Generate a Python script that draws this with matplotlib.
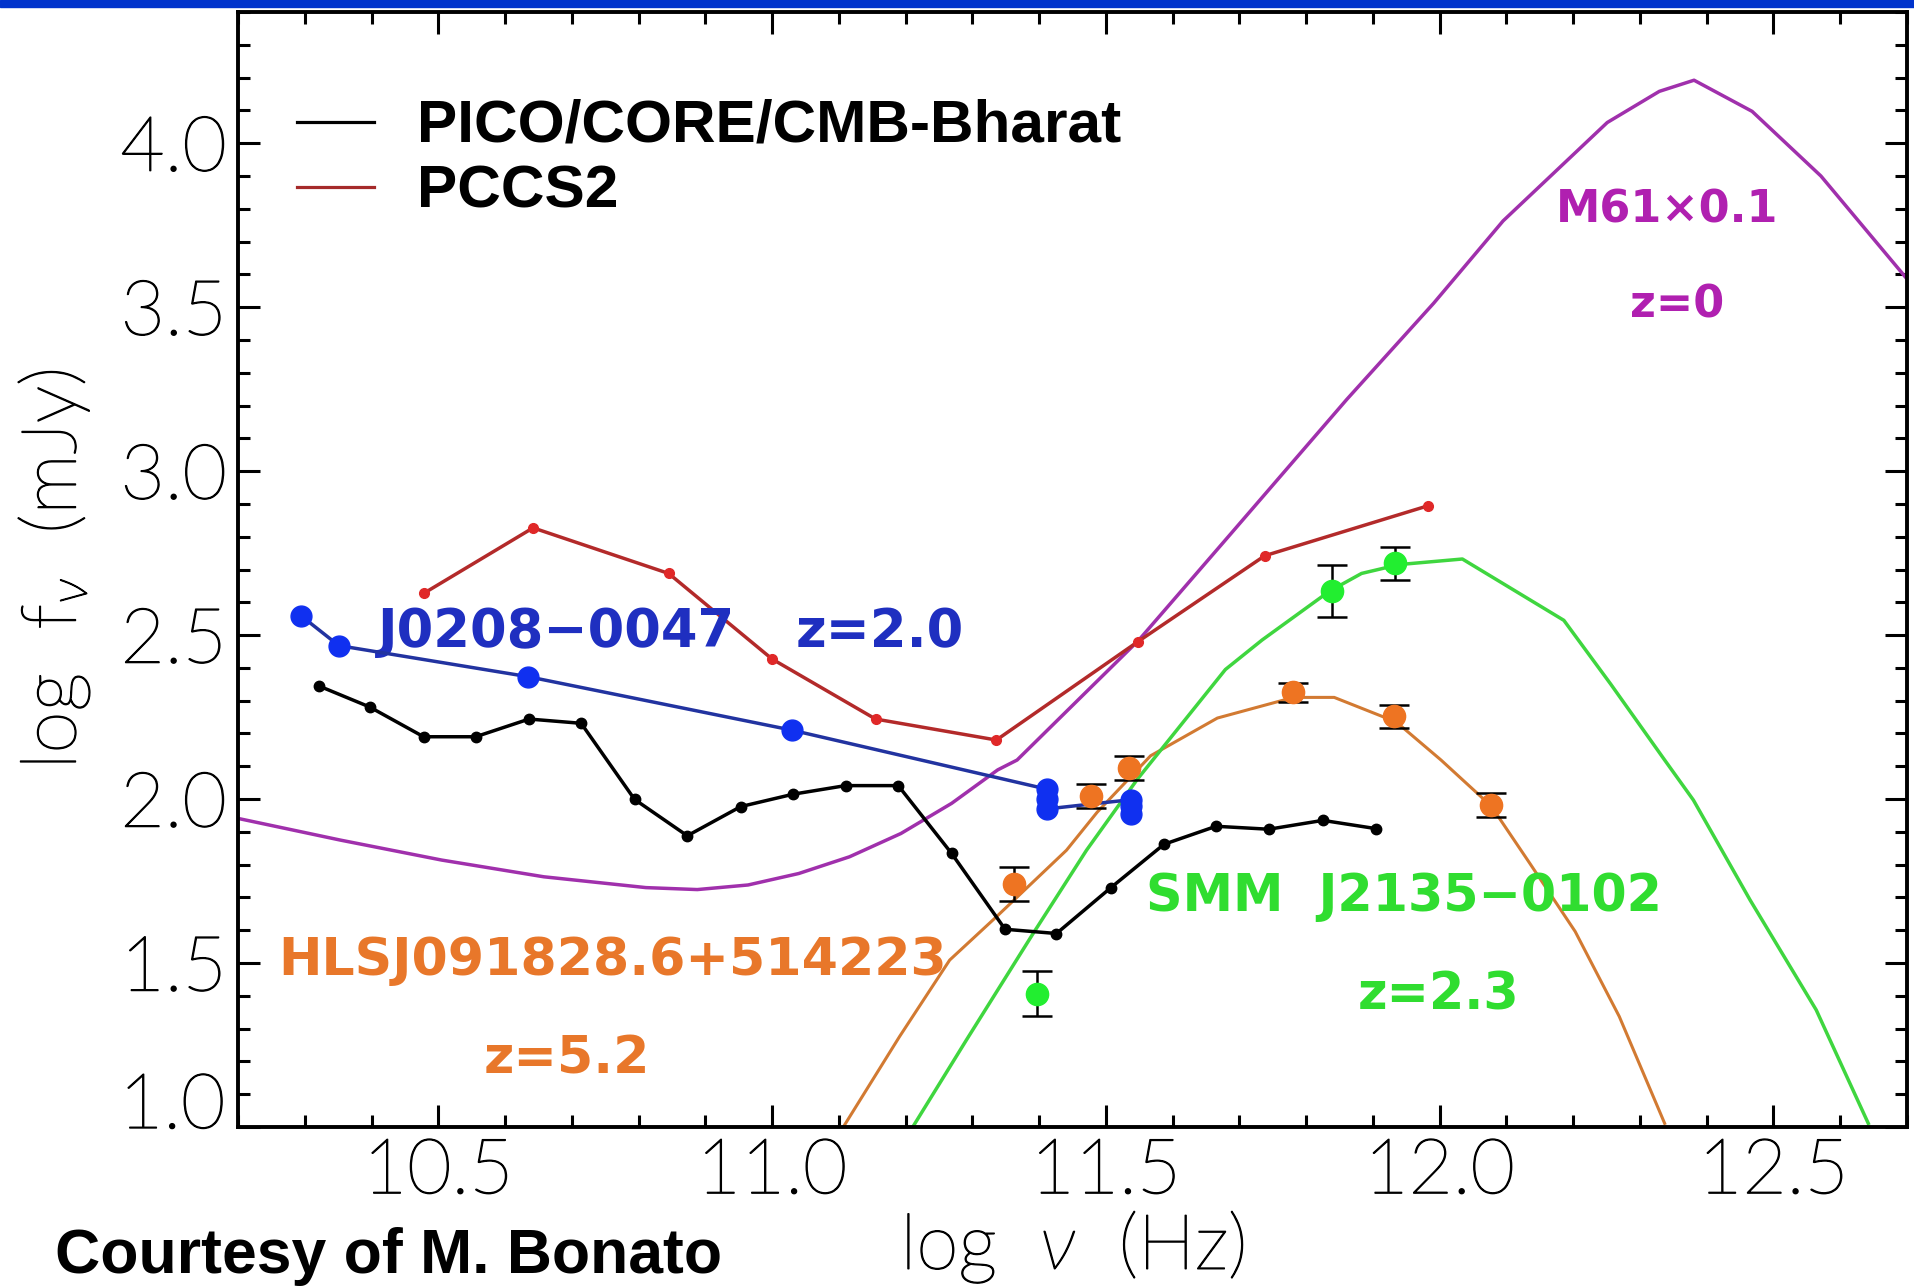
import matplotlib.pyplot as plt
import matplotlib.patheffects as pe
from matplotlib.patches import Rectangle
from matplotlib.ticker import MultipleLocator

# PICO/CORE/CMB-Bharat detection limits
pico_lognu = [10.321, 10.397, 10.478, 10.556, 10.636, 10.714, 10.794, 10.873,
              10.953, 11.032, 11.110, 11.189, 11.269, 11.349, 11.426, 11.507,
              11.587, 11.665, 11.744, 11.825, 11.904]
pico_logf = [2.345, 2.281, 2.190, 2.190, 2.244, 2.231, 1.999, 1.888,
             1.977, 2.015, 2.041, 2.041, 1.834, 1.603, 1.590, 1.729,
             1.862, 1.917, 1.908, 1.935, 1.910]

# PCCS2 completeness limits
pccs2_lognu = [10.478, 10.642, 10.845, 11.000, 11.155, 11.336, 11.548, 11.738, 11.982]
pccs2_logf = [2.627, 2.827, 2.688, 2.427, 2.244, 2.180, 2.480, 2.742, 2.894]

# J0208-0047 (z=2.0)
j0208_lognu = [10.295, 10.351, 10.635, 11.030, 11.412, 11.412, 11.412,
               11.537, 11.537, 11.537]
j0208_logf = [2.558, 2.468, 2.373, 2.210, 2.030, 2.000, 1.970,
              1.998, 1.978, 1.955]

# HLSJ091828.6+514223 (z=5.2): photometry and SED
hls_lognu = [11.363, 11.477, 11.534, 11.781, 11.932, 12.077]
hls_logf = [1.741, 2.010, 2.095, 2.326, 2.252, 1.982]
hls_err = [0.052, 0.036, 0.037, 0.029, 0.034, 0.037]
hls_sed_lognu = [11.107, 11.191, 11.266, 11.336, 11.441, 11.487, 11.567, 11.667,
                 11.781, 11.842, 11.935, 12.002, 12.077, 12.135, 12.203, 12.269, 12.337]
hls_sed_logf = [1.001, 1.276, 1.509, 1.641, 1.844, 1.960, 2.132, 2.247,
                2.310, 2.310, 2.235, 2.119, 1.979, 1.804, 1.596, 1.337, 1.011]

# SMM J2135-0102 (z=2.3): photometry and SED
smm_lognu = [11.397, 11.839, 11.933]
smm_logf = [1.406, 2.635, 2.719]
smm_err = [0.069, 0.080, 0.050]
smm_sed_lognu = [11.211, 11.291, 11.391, 11.471, 11.547, 11.679, 11.734, 11.835,
                 11.883, 11.939, 12.034, 12.186, 12.256, 12.337, 12.380, 12.465,
                 12.564, 12.642]
smm_sed_logf = [1.001, 1.265, 1.590, 1.844, 2.060, 2.395, 2.485, 2.634,
                2.688, 2.715, 2.732, 2.545, 2.351, 2.119, 1.997, 1.692,
                1.357, 1.011]

# M61 x 0.1 (z=0)
m61_lognu = [10.200, 10.353, 10.505, 10.658, 10.811, 10.888, 10.964, 11.040,
             11.116, 11.193, 11.269, 11.338, 11.367, 11.549, 11.688, 11.861,
             11.991, 12.095, 12.251, 12.329, 12.381, 12.468, 12.571, 12.700]
m61_logf = [1.941, 1.875, 1.814, 1.763, 1.730, 1.724, 1.738, 1.773,
            1.824, 1.895, 1.987, 2.089, 2.119, 2.484, 2.811, 3.219,
            3.512, 3.763, 4.063, 4.158, 4.192, 4.097, 3.900, 3.586]

xticks = [10.5, 11.0, 11.5, 12.0, 12.5]
yticks = [1.0, 1.5, 2.0, 2.5, 3.0, 3.5, 4.0]

TICK_FONT = ['Lato', 'DejaVu Sans']
ANNOT_FONT = ['DejaVu Sans']
# thin light glyphs, slightly thickened
THIN = [pe.withStroke(linewidth=1.0, foreground='black')]
plt.rcParams['mathtext.fontset'] = 'custom'
plt.rcParams['mathtext.rm'] = 'Lato:light'
plt.rcParams['mathtext.it'] = 'Lato:italic:light'
plt.rcParams['mathtext.fallback'] = 'stixsans'

fig = plt.figure(figsize=(19.15, 12.86), dpi=100)
fig.patches.append(Rectangle((0, 1 - 7 / 1286), 1, 7 / 1286, transform=fig.transFigure,
                             color='#0033cc', zorder=0))

ax = fig.add_axes([238 / 1915, 1 - 1127 / 1286, 1669 / 1915, 1115 / 1286])

ax.plot(m61_lognu, m61_logf, color='#a030ac', lw=2.5, zorder=2)
ax.plot(hls_sed_lognu, hls_sed_logf, color='#d27a32', lw=2.2, zorder=2)
ax.plot(smm_sed_lognu, smm_sed_logf, color='#3fd63f', lw=2.5, zorder=2)

ax.plot(pccs2_lognu, pccs2_logf, color='#b32a2a', lw=2.5, marker='o', ms=7,
        mfc='#e02828', mec='#e02828', zorder=3)
ax.plot(pico_lognu, pico_logf, color='black', lw=2.5, marker='o', ms=7.5, zorder=3)
ax.plot(j0208_lognu, j0208_logf, color='#2233a0', lw=2.5, marker='o', ms=15,
        mfc='#1030f0', mec='#1030f0', zorder=4)

ax.errorbar(hls_lognu, hls_logf, yerr=hls_err, fmt='o', ms=16, mfc='#ee7422',
            mec='#ee7422', ecolor='black', elinewidth=1.8, capsize=11, capthick=1.8,
            zorder=5)
ax.errorbar(smm_lognu, smm_logf, yerr=smm_err, fmt='o', ms=16, mfc='#22ee30',
            mec='#22ee30', ecolor='black', elinewidth=1.8, capsize=11, capthick=1.8,
            zorder=5)

# legend
ax.plot([0.0354, 0.0812], [0.9016, 0.9016], color='black', lw=2.3, transform=ax.transAxes)
ax.plot([0.0354, 0.0812], [0.8433, 0.8433], color='#a52a2a', lw=2.3, transform=ax.transAxes)
ax.text(0.1073, 0.884, 'PICO/CORE/CMB-Bharat', transform=ax.transAxes, ha='left',
        va='baseline', fontsize=43.5, fontweight='bold', family=['Liberation Sans'])
ax.text(0.1073, 0.825, 'PCCS2', transform=ax.transAxes, ha='left', va='baseline',
        fontsize=43.5, fontweight='bold', family=['Liberation Sans'])

# source labels
ax.text(10.410, 2.508, 'J0208\u22120047', color='#1f2fc0', fontsize=38,
        fontweight='bold', family=ANNOT_FONT, ha='left', va='center')
ax.text(11.036, 2.508, 'z=2.0', color='#1f2fc0', fontsize=38,
        fontweight='bold', family=ANNOT_FONT, ha='left', va='center')
ax.text(12.340, 3.796, 'M61\u00d70.1', color='#b020b0', fontsize=32,
        fontweight='bold', family=ANNOT_FONT, ha='center', va='center')
ax.text(12.356, 3.506, 'z=0', color='#b020b0', fontsize=32,
        fontweight='bold', family=ANNOT_FONT, ha='center', va='center')
ax.text(10.761, 1.506, 'HLSJ091828.6+514223', color='#e8772a', fontsize=37.5,
        fontweight='bold', family=ANNOT_FONT, ha='center', va='center')
ax.text(10.692, 1.205, 'z=5.2', color='#e8772a', fontsize=37.5,
        fontweight='bold', family=ANNOT_FONT, ha='center', va='center')
ax.text(11.946, 1.700, 'SMM  J2135\u22120102', color='#30dd30', fontsize=36.5,
        fontweight='bold', family=ANNOT_FONT, ha='center', va='center')
ax.text(11.998, 1.402, 'z=2.3', color='#30dd30', fontsize=36.5,
        fontweight='bold', family=ANNOT_FONT, ha='center', va='center')

ax.set_xlim(10.2, 12.7)
ax.set_ylim(1.0, 4.4)
ax.set_xticks(xticks)
ax.set_xticklabels([f'{t:.1f}' for t in xticks])
ax.set_yticks(yticks)
# the 1.0 label is lifted off the corner below
ax.set_yticklabels([''] + [f'{t:.1f}' for t in yticks[1:]])
ax.xaxis.set_minor_locator(MultipleLocator(0.1))
ax.yaxis.set_minor_locator(MultipleLocator(0.1))
ax.tick_params(which='both', direction='in', top=True, right=True, width=2.2)
ax.tick_params(which='major', length=16, labelsize=55, pad=8)
ax.tick_params(which='minor', length=8.5)
for lab in ax.get_xticklabels() + ax.get_yticklabels():
    lab.set_family(TICK_FONT)
    lab.set_fontweight('light')
    lab.set_path_effects(THIN)
ax.text(-0.0075, 0.0175, '1.0', transform=ax.transAxes, ha='right', va='center',
        fontsize=55, family=TICK_FONT, fontweight='light', path_effects=THIN)
for sp in ax.spines.values():
    sp.set_linewidth(2.8)

ax.set_xlabel(r'log  $\nu$  (Hz)', fontsize=55, family=TICK_FONT, fontweight='light',
              labelpad=2, path_effects=THIN)
ax.set_ylabel(r'log  f$_{\nu}$  (mJy)', fontsize=55, family=TICK_FONT, fontweight='light',
              labelpad=20, path_effects=THIN)

fig.text(0.0287, 0.010, 'Courtesy of M. Bonato', fontsize=45, fontweight='bold',
         family=['Liberation Sans'], ha='left', va='baseline')

fig.savefig('out.png', dpi=100)
